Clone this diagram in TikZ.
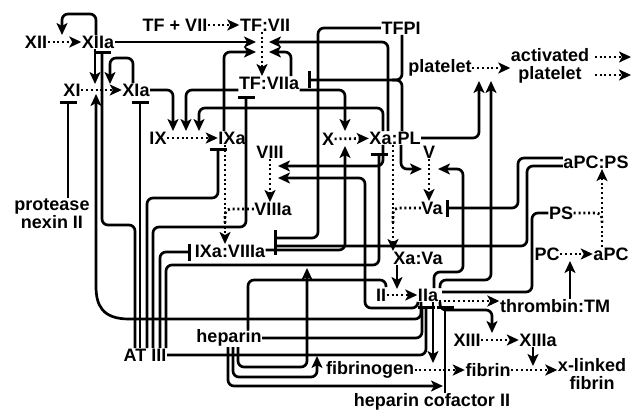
\documentclass[tikz,border=0pt]{standalone}
\usepackage{fontspec}
\setmainfont{Liberation Sans}
\usetikzlibrary{arrows.meta}
\begin{document}
\begin{tikzpicture}[x=1pt,y=-1pt,
 lbl/.style={font=\fontsize{18}{18}\selectfont\bfseries, inner sep=0.5pt},
 conv/.style={line width=2.7pt, dash pattern=on 2pt off 2.8pt, -{Stealth[length=12pt,width=11pt,inset=3pt]}},
 cline/.style={line width=2.7pt, dash pattern=on 2pt off 2.8pt, rounded corners=5pt},
 act/.style={line width=2.7pt, rounded corners=6pt, -{Stealth[length=12pt,width=11pt,inset=3pt]}},
 inh/.style={line width=2.7pt, rounded corners=6pt, -{Bar[width=17pt]}},
 ln/.style={line width=2.7pt, rounded corners=6pt}]
\useasboundingbox (0,0) rectangle (632,412);
% nodes
\node[lbl] (XII) at (36,42) {XII};
\node[lbl] (XIIa) at (98,42) {XIIa};
\node[lbl] (TF0) at (175,25) {TF + VII};
\node[lbl] (TFVII) at (265,25) {TF:VII};
\node[lbl] (TFPI) at (401,28) {TFPI};
\node[lbl] (plt) at (440,68) {platelet};
\node[lbl, align=center] (act) at (550,66) {activated\\platelet};
\node[lbl] (XI) at (72,90) {XI};
\node[lbl] (XIa) at (136,90) {XIa};
\node[lbl] (TFVIIa) at (269,83) {TF:VIIa};
\node[lbl] (IX) at (158,138) {IX};
\node[lbl] (IXa) at (232,138) {IXa};
\node[lbl] (X) at (328,139) {X};
\node[lbl] (XaPL) at (395,138) {Xa:PL};
\node[lbl] (VIII) at (270,152) {VIII};
\node[lbl] (VIIIa) at (273,209) {VIIIa};
\node[lbl] (V) at (429,152) {V};
\node[lbl] (Va) at (432,208) {Va};
\node[lbl] (aPCPS) at (596,162) {aPC:PS};
\node[lbl] (PS) at (561,213) {PS};
\node[lbl] (PC) at (547,254) {PC};
\node[lbl] (aPC) at (611,254) {aPC};
\node[lbl] (IXaVIIIa) at (230,251) {IXa:VIIIa};
\node[lbl] (XaVa) at (418,258) {Xa:Va};
\node[lbl] (II) at (381,295) {II};
\node[lbl] (IIa) at (428,295) {IIa};
\node[lbl] (thrTM) at (555,306) {thrombin:TM};
\node[lbl] (XIII) at (467,340) {XIII};
\node[lbl] (XIIIa) at (538,340) {XIIIa};
\node[lbl] (fbg) at (370,370) {fibrinogen};
\node[lbl] (fib) at (488,370) {fibrin};
\node[lbl, align=center] (xlf) at (592,374) {x-linked\\fibrin};
\node[lbl] (hep) at (229,338) {heparin};
\node[lbl] (AT) at (145,355) {AT III};
\node[lbl] (hc) at (432,402) {heparin cofactor II};
\node[lbl, align=center] (pn) at (52,214) {protease\\nexin II};
\coordinate (o1) at (631,57);
\coordinate (o2) at (631,75);
% conversions
\draw[conv] (XII) -- (XIIa);
\draw[conv] (TF0) -- (TFVII);
\draw[conv] (TFVII.south -| 262,0) -- (TFVIIa.north -| 262,0);
\draw[conv] (XI) -- (XIa);
\draw[conv] (IX) -- (IXa);
\draw[conv] (X) -- (XaPL);
\draw[conv] (plt.east) -- (plt.east -| act.west);
\draw[conv, shorten <=5pt] (act.east |- o1) -- (o1);
\draw[conv, shorten <=5pt] (act.east |- o2) -- (o2);
\draw[conv] (VIII.south) -- (VIII.south |- VIIIa.north);
\draw[conv] (V.south) -- (V.south |- Va.north);
\draw[conv] (IXa.south -| 225,0) -- (IXaVIIIa.north -| 225,0);
\draw[cline] (VIIIa.west) -| (225,225);
\draw[conv] (XaPL.south -| 393,0) -- (XaVa.north -| 393,0);
\draw[cline] (Va.west) -| (393,225);
\draw[conv] (PC) -- (aPC);
\draw[conv] (aPC.north -| 602,0) -- (aPCPS.south -| 602,0);
\draw[cline] (PS.east) -| (602,225);
\draw[conv] (II) -- (IIa);
\draw[conv] (IIa.east |- 0,301) -- (thrTM.west |- 0,301);
\draw[conv] (XIII) -- (XIIIa);
\draw[conv] (fbg) -- (fib);
\draw[conv] (fib.east) -- (xlf.west |- fib.east);
% activations
\draw[act] (XIIa.north -| 96,0) |- (62,14) -- (62,35);
\draw[act] (XIIa.south -| 95,0) -- (95,84);
\draw[act] (XIa.north -| 133,0) |- (110,58) -- (110,84);
\draw[act] (XIa.east) -| (173,131);
\draw[act] (TFVIIa.west |- 0,90) -| (186,131);
\draw[act] (XaPL.north -| 383,0) |- (199,108) -- (199,131);
\draw[act] (XIIa.east) -- (256,42);
\draw[act] (XaPL.north -| 388,0) |- (269,42);
\draw[act] (IXa.north -| 224,0) |- (256,52);
\draw[act] (TFVIIa.north -| 291,0) |- (269,52);
\draw[act] (TFVIIa.east |- 0,90) -| (345,131);
\draw[act] (IXaVIIIa.east |- 0,250) -| (345,146);
\draw[act] (XaPL.east) -| (479,81);
\draw[act] (IIa.north -| 440,0) |- (491,280) -- (491,81);
\draw[act] (XaPL.south -| 401,0) |- (422,169);
\draw[act] (IIa.north -| 434,0) |- (463,272) |- (438,169);
\draw[act] (XaPL.south -| 383,0) |- (278,166);
\draw[act] (IIa.south -| 418,0) |- (365,308) -- (365,178) -- (278,178);
\draw[act] (XaVa.south -| 397,0) -- (397,289);
\draw[act] (IIa.south -| 421,0) |- (135,319) .. controls (102,319) and (96,305) .. (96,280) -- (96,94);
\draw[act] (IIa.south -| 440,0) |- (492,310) -- (492,333);
\draw[act] (IIa.south -| 433,0) -- (433,363);
\draw[act] (XIIIa.south -| 533,0) -- (533,366);
\draw[act] (thrTM.north -| 570,0) -- (570,261);
% inhibitions
\draw[inh] (TFPI.south -| 402,0) |- (308,80);
\draw[ln] (XaPL.north -| 402,0) |- (392,80);
\draw[inh] (TFPI.west) -| (318,238) -- (274,238);
\draw[inh] (aPCPS.west |- 0,166) -| (527,246) -- (274,246);
\draw[inh] (aPCPS.west |- 0,158) -| (518,208) -- ([xshift=3pt]Va.east);
\draw[inh] (pn.north -| 68,0) -- (68,101);
\draw[inh] (AT.north -| 135,0) |- (102,225) -- (102,51);
\draw[inh] (AT.north -| 140,0) -- (140,101);
\draw[inh] (AT.north -| 147,0) |- (218,198) -- (218,148);
\draw[inh] (AT.north -| 153,0) |- (246,227) -- (246,96);
\draw[inh] (AT.north -| 160,0) |- (191,252);
\draw[inh] (AT.north -| 166,0) |- (379,265) -- (379,153);
\draw[inh] (AT.east) -| (426,306);
\draw[inh] (hc.north -| 445,0) -- (445,306);
\draw[ln] (hep.east) -| (422,306);
% heparin
\draw[act] (hep.south -| 238,0) |- (307,367) -- (307,268);
\draw[act] (hep.south -| 233,0) |- (317,377) -- (317,356);
\draw[act] (hep.south -| 228,0) |- (443,386);
\draw[ln] (hep.north -| 248,0) |- (386,280) -- (386,287);
\draw[ln] (PS.west) -| (532,292) -- (442,292);
\end{tikzpicture}
\end{document}
